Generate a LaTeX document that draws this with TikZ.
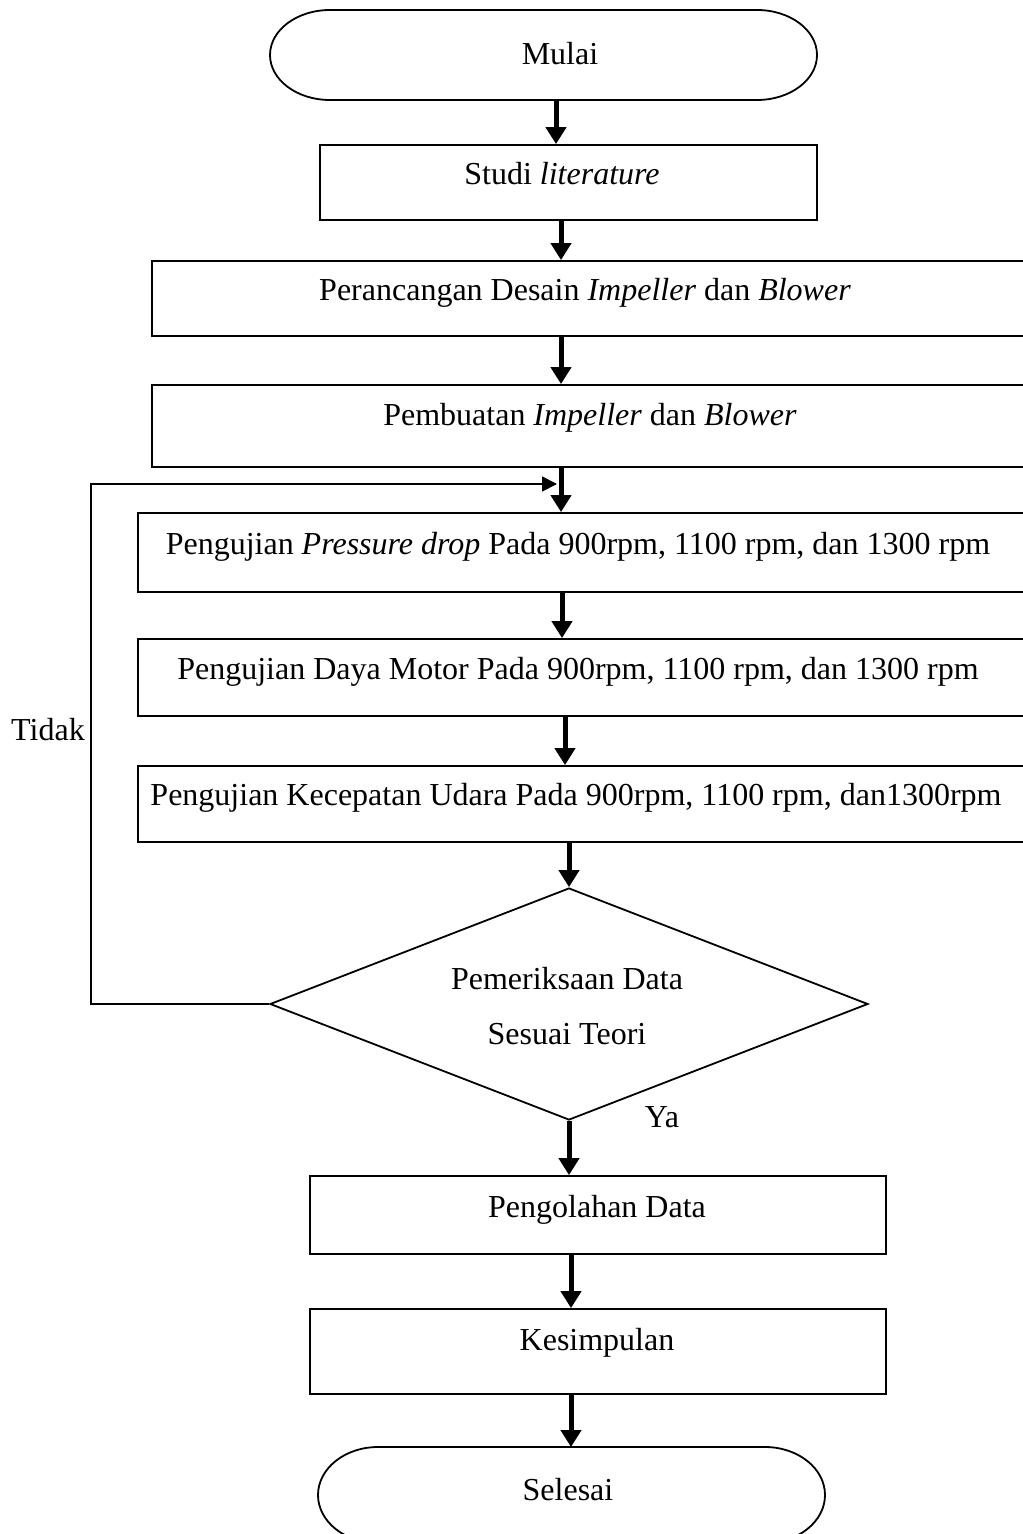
\documentclass[tikz,border=0pt]{standalone}
\usepackage{fontspec}
\setmainfont{Liberation Serif}
\usetikzlibrary{arrows.meta,positioning,shapes.geometric}
\tikzset{
  procbox/.style={draw,line width=0.9pt,inner sep=0pt},
  termbox/.style={inner sep=0pt,outer sep=0pt},
  decbox/.style={draw,line width=0.9pt,diamond,inner sep=0pt},
  boxtext/.style={anchor=base,inner sep=0pt},
  flow/.style={line width=2.5pt,-{Triangle[width=10pt,length=8.5pt]}},
  backflow/.style={line width=0.9pt,-{Triangle[width=7.5pt,length=7.5pt]}},
}
% outline of a terminator with elliptic ends: #1 node, #2 half height
\newcommand{\termoutline}[2]{%
  \draw[line width=0.9pt,line join=round] (#1.west)
    arc[start angle=180,end angle=90,x radius=30pt,y radius=#2]
    -- ([xshift=-30pt]#1.north east)
    arc[start angle=90,end angle=-90,x radius=30pt,y radius=#2]
    -- ([xshift=30pt]#1.south west)
    arc[start angle=270,end angle=180,x radius=30pt,y radius=#2] -- cycle;}

\begin{document}
\begin{tikzpicture}[x=0.5pt,y=-0.5pt,font=\fontsize{16}{19.2}\selectfont]
\useasboundingbox (0,0) rectangle (1022,1534);

% terminators, boxes and the check
\node[termbox,minimum width=273.5pt,minimum height=45pt] (start) at (543.5,55) {};
\node[procbox,minimum width=248.5pt,minimum height=37.5pt] (studi) at (568.5,182.5) {};
\node[procbox,minimum width=459pt,minimum height=37.5pt] (rancang) at (611,298.5) {};
\node[procbox,minimum width=459pt,minimum height=41pt] (buat) at (611,426) {};
\node[procbox,minimum width=466pt,minimum height=39.5pt] (ujitekan) at (604,552.5) {};
\node[procbox,minimum width=466pt,minimum height=38.5pt] (ujidaya) at (604,677.5) {};
\node[procbox,minimum width=466pt,minimum height=38pt] (ujiangin) at (604,804) {};
\node[decbox,minimum width=299pt,minimum height=116pt] (cek) at (569,1004) {};
\node[procbox,minimum width=288pt,minimum height=39pt] (olah) at (598,1215) {};
\node[procbox,minimum width=288pt,minimum height=42.5pt] (simpul) at (598,1351.5) {};
\node[termbox,minimum width=253.5pt,minimum height=48pt] (finish) at (571.5,1495) {};
\termoutline{start}{22.5pt}
\termoutline{finish}{24pt}

% texts
\node[boxtext] (tstart) at (560,65) {Mulai};
\node[boxtext] (tstudi) at (562,185) {Studi \textit{literature}};
\node[boxtext] (trancang) at (585,301) {Perancangan Desain \textit{Impeller} dan \textit{Blower}};
\node[boxtext] (tbuat) at (590,425) {Pembuatan \textit{Impeller} dan \textit{Blower}};
\node[boxtext] (ttekan) at (578,554) {Pengujian \textit{Pressure drop} Pada 900rpm, 1100 rpm, dan 1300 rpm};
\node[boxtext] (tdaya) at (578,679) {Pengujian Daya Motor Pada 900rpm, 1100 rpm, dan 1300 rpm};
\node[boxtext] (tangin) at (576,805) {Pengujian Kecepatan Udara Pada 900rpm, 1100 rpm, dan1300rpm};
\node[align=center,inner sep=0pt] (tcek) at (567,1006) {Pemeriksaan Data\\[8.3pt]Sesuai Teori};
\node[boxtext] (tolah) at (597,1217) {Pengolahan Data};
\node[boxtext] (tsimpul) at (597,1350) {Kesimpulan};
\node[boxtext] (tfinish) at (568,1500) {Selesai};
\node[boxtext] (ya) at (662,1127) {Ya};
\node[boxtext] (tidak) at (48,740) {Tidak};

% main flow
\draw[flow] (start.south -| 556,0) -- (studi.north -| 556,0);
\draw[flow] (studi.south -| 561,0) -- (rancang.north -| 561,0);
\draw[flow] (rancang.south -| 561,0) -- (buat.north -| 561,0);
\draw[flow] (buat.south -| 561,0) -- (ujitekan.north -| 561,0);
\draw[flow] (ujitekan.south -| 562,0) -- (ujidaya.north -| 562,0);
\draw[flow] (ujidaya.south -| 565,0) -- (ujiangin.north -| 565,0);
\draw[flow] (ujiangin.south -| cek.north) -- (cek.north);
\draw[flow] (cek.south) -- (olah.north -| cek.south);
\draw[flow] (olah.south -| 571,0) -- (simpul.north -| 571,0);
\draw[flow] (simpul.south -| 571,0) -- (finish.north -| 571,0);

% back to the tests
\coordinate (join) at (557,484);
\draw[backflow] (cek.west) -- ++(-178,0) |- (join);
\end{tikzpicture}
\end{document}
